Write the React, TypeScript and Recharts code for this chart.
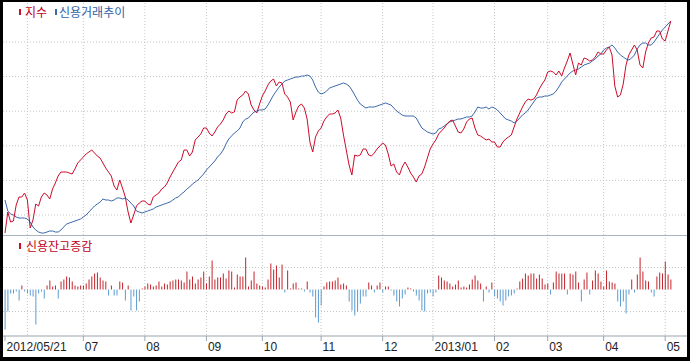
import { LineChart, Line, BarChart, Bar, XAxis, YAxis, CartesianGrid, Cell } from 'recharts'

// daily levels, 2012/05/21 .. 2013/05 (relative units)
const INDEX_LEVEL = [
  2, 23, 13, 14, 30, 38, 38, 42, 35, 7,
  15, 31, 29, 38, 42, 40, 36, 46, 52, 59,
  63, 63, 63, 62, 61, 66, 72, 75, 78, 81,
  83, 85, 82, 79, 77, 72, 67, 63, 59, 49,
  45, 55, 47, 38, 23, 12, 20, 29, 32, 34,
  34, 31, 30, 38, 40, 42, 46, 48, 52, 58,
  63, 68, 73, 75, 85, 85, 79, 83, 95, 98,
  101, 107, 107, 102, 99, 103, 108, 111, 115, 121,
  124, 122, 123, 135, 138, 140, 144, 141, 130, 125,
  122, 131, 139, 144, 150, 154, 156, 149, 153, 152,
  141, 138, 133, 115, 123, 129, 131, 127, 116, 93,
  83, 98, 104, 107, 114, 118, 121, 121, 122, 125,
  117, 100, 85, 70, 60, 80, 79, 80, 86, 86,
  80, 79, 82, 86, 89, 92, 90, 81, 69, 71,
  63, 60, 68, 73, 68, 62, 58, 53, 59, 61,
  68, 77, 86, 91, 95, 101, 104, 107, 111, 114,
  115, 109, 103, 102, 106, 113, 116, 117, 107, 100,
  99, 97, 95, 96, 93, 93, 88, 88, 93, 96,
  98, 100, 108, 116, 122, 128, 133, 136, 135, 136,
  140, 146, 151, 155, 163, 164, 163, 160, 164, 159,
  167, 174, 182, 171, 160, 172, 170, 177, 176, 174,
  175, 178, 183, 181, 181, 185, 188, 180, 149, 138,
  140, 151, 170, 180, 185, 190, 185, 170, 167, 183,
  192, 197, 198, 204, 204, 196, 194, 204, 214,
]

const CREDIT_LEVEL = [
  35, 24, 21, 20, 18, 17, 17, 17, 16, 13,
  8, 5, 3, 2, 2, 3, 4, 4, 3, 3,
  5, 8, 11, 12, 13, 14, 15, 16, 18, 20,
  23, 26, 29, 31, 33, 36, 35, 35, 34, 35,
  37, 37, 36, 37, 35, 32, 29, 24, 23, 22,
  23, 24, 25, 26, 28, 29, 30, 31, 32, 33,
  35, 37, 38, 41, 43, 46, 48, 51, 53, 55,
  58, 61, 65, 68, 71, 74, 78, 81, 85, 91,
  96, 99, 102, 104, 107, 113, 116, 117, 120, 123,
  124, 125, 125, 126, 130, 135, 140, 144, 148, 151,
  154, 155, 156, 157, 158, 158, 159, 159, 160, 159,
  155, 148, 143, 141, 142, 144, 147, 148, 149, 150,
  151, 152, 151, 149, 145, 140, 135, 131, 129, 127,
  128, 128, 128, 129, 130, 131, 132, 131, 130, 127,
  124, 122, 120, 119, 119, 119, 119, 117, 112, 107,
  105, 103, 102, 101, 102, 106, 107, 109, 111, 113,
  114, 115, 116, 116, 117, 118, 118, 119, 123, 128,
  127, 127, 128, 126, 128, 127, 125, 122, 119, 116,
  115, 114, 112, 114, 117, 120, 122, 125, 129, 133,
  137, 138, 138, 139, 139, 140, 141, 144, 148, 153,
  156, 159, 162, 164, 165, 166, 168, 170, 171, 172,
  174, 176, 179, 181, 185, 187, 188, 190, 187, 183,
  180, 178, 176, 175, 177, 180, 186, 190, 192, 192,
  190, 190, 193, 197, 201, 205, 208, 211, 214,
]

const BALANCE_CHANGE = [
  -40, -22, -4, -4, -2, -11, 4, -2, -4, -6,
  -7, -35, -4, -2, -9, 4, 9, 3, 4, -9,
  8, 10, 13, 12, 8, 4, 3, 4, 4, 6,
  10, 13, 16, 17, 12, 9, 8, -6, 4, -6,
  -6, 8, 7, -11, 4, -21, -7, -21, -12, 1,
  3, 6, 5, 3, 4, 8, 3, 6, 5, 8,
  9, 10, 10, 9, 7, 18, 10, 13, 6, 10,
  12, 18, 6, 13, 29, 10, 12, 12, 16, 11,
  19, 18, 2, 15, 13, 13, 32, 3, 9, 18,
  6, 4, 3, 2, 10, 26, 20, 24, 12, 25,
  -3, 19, 1, 6, 7, 1, 1, -2, 8, -3,
  -7, -28, -33, -16, 3, 7, 8, 8, 9, 12,
  5, 6, 4, -12, -21, -26, -22, -14, -7, -7,
  7, 4, -3, 4, 7, -3, 3, 3, -1, -6,
  -12, -17, -9, -5, 2, 1, -2, -6, -11, -21,
  -22, -4, -3, -7, -3, 14, 12, 9, 8, 6,
  3, 5, 9, 2, 3, 2, 5, 10, 14, 9,
  6, -12, 3, -3, 7, -7, -9, -12, -16, -11,
  -7, -6, -4, 1, 8, 11, 16, 14, 16, 16,
  11, 15, 11, 5, 6, -5, 7, 18, 16, 16,
  16, -5, 16, 15, 18, 7, -12, 10, 17, -5,
  9, 19, 16, 8, 3, 19, 8, 7, 6, -12,
  -17, -12, -24, -5, 10, -3, 15, 32, 18, 9,
  8, -3, -7, 13, 17, 16, 28, 15, 10,
]

// trading-day index of each month start
const MONTH_STARTS = [8, 28, 50, 72, 92, 113, 135, 153, 175, 194, 214, 236]
const TICKS = [0, 28, 50, 72, 92, 113, 135, 153, 175, 194, 214, 236]
const TICK_LABELS = ['2012/05/21', '07', '08', '09', '10', '11', '12', '2013/01', '02', '03', '04', '05']

const RED = '#cc0c2a'
const BLUE = '#3a68ad'
const BAR_RED = '#c4242b'
const BAR_BLUE = '#5b9bd0'
const GRID = '#c4c4c4'
const X_DOMAIN = [-0.715, 243.8]

const rows = INDEX_LEVEL.map((v, i) => ({
  i,
  index: v,
  credit: CREDIT_LEVEL[i],
  change: BALANCE_CHANGE[i],
}))

function MonthTick({ x, y, payload }: any) {
  const k = TICKS.indexOf(payload.value)
  return (
    <text x={x + 1.5} y={y} dy={10} textAnchor="start" fontSize={12}
      fontFamily="'Liberation Sans', Arial, sans-serif" fill="#222">
      {TICK_LABELS[k]}
    </text>
  )
}

const legendText = {
  position: 'absolute' as const,
  fontFamily: "'Noto Sans CJK KR', sans-serif",
  fontSize: 12,
  lineHeight: '16px',
  whiteSpace: 'nowrap' as const,
}

function Marker({ left, top, color }: { left: number; top: number; color: string }) {
  return <div style={{ position: 'absolute', left, top, width: 2, height: 6, background: color }} />
}

export default function App() {
  return (
    <div style={{ position: 'absolute', left: 0, top: 0, width: 690, height: 361, background: '#fff' }}>
      <div style={{ position: 'absolute', left: 3, top: 3 }}>
        <LineChart width={684} height={232} data={rows} margin={{ top: 0, right: 0, left: 0, bottom: 0 }}>
          <CartesianGrid stroke={GRID} strokeDasharray="1 2"
            horizontalValues={[20, 54.6, 89.2, 123.8, 158.4, 193]} verticalValues={MONTH_STARTS} />
          <XAxis dataKey="i" type="number" domain={X_DOMAIN} hide />
          <YAxis domain={[0, 232]} hide />
          <Line type="linear" dataKey="credit" stroke={BLUE} strokeWidth={1} dot={false} isAnimationActive={false} />
          <Line type="linear" dataKey="index" stroke={RED} strokeWidth={1} dot={false} isAnimationActive={false} />
        </LineChart>
      </div>

      <div style={{ position: 'absolute', left: 3, top: 235 }}>
        <BarChart width={684} height={122} data={rows} margin={{ top: 0, right: 0, left: 0, bottom: 0 }}>
          <CartesianGrid stroke={GRID} strokeDasharray="1 2"
            horizontalValues={[-22, 0, 22]} verticalValues={MONTH_STARTS} />
          <XAxis dataKey="i" type="number" domain={X_DOMAIN} ticks={TICKS} interval={0}
            height={21} tickSize={5} tickMargin={0}
            axisLine={{ stroke: '#9aa4ae' }} tickLine={{ stroke: '#9aa4ae' }} tick={<MonthTick />} />
          <YAxis domain={[-46.5, 54.5]} hide />
          <Bar dataKey="change" barSize={1} isAnimationActive={false}>
            {rows.map((r) => (
              <Cell key={r.i} fill={r.change >= 0 ? BAR_RED : BAR_BLUE} />
            ))}
          </Bar>
        </BarChart>
      </div>

      <div style={{ position: 'absolute', left: 3, top: 235, width: 684, height: 1, background: '#a8b4c0' }} />

      <Marker left={19} top={9} color={RED} />
      <span style={{ ...legendText, left: 25, top: 4, color: '#c00018' }}>지수</span>
      <Marker left={55} top={9} color={BLUE} />
      <span style={{ ...legendText, left: 59, top: 4, color: '#2f5fa8' }}>신용거래추이</span>

      <Marker left={19} top={243} color={RED} />
      <span style={{ ...legendText, left: 26, top: 238, color: '#c00018' }}>신용잔고증감</span>

      <div style={{
        position: 'absolute', left: 0, top: 0, width: 690, height: 361, boxSizing: 'border-box',
        borderStyle: 'solid', borderColor: '#000', borderWidth: '2px 3px 4px 3px', pointerEvents: 'none',
      }} />
    </div>
  )
}
